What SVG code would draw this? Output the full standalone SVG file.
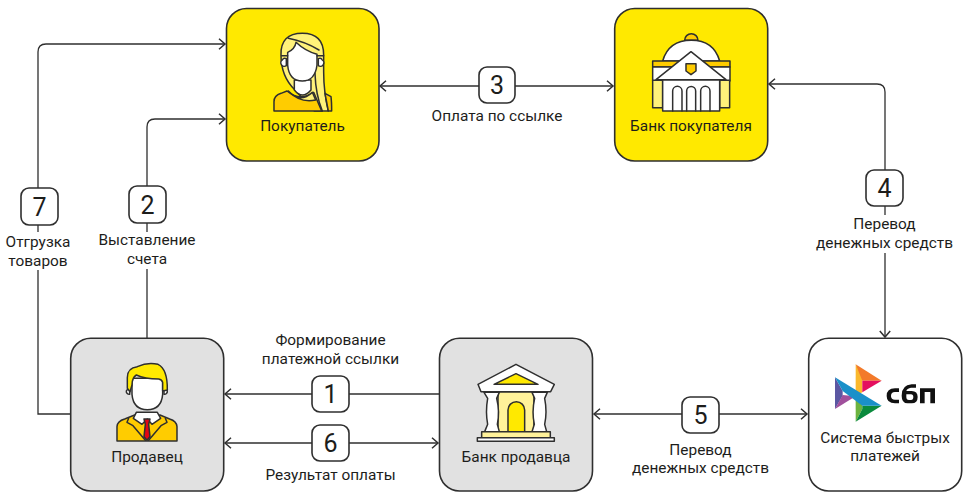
<svg xmlns="http://www.w3.org/2000/svg" width="969" height="500" viewBox="0 0 969 500">
<style>
text{font-family:Roboto,"Liberation Sans",sans-serif;font-size:15.4px;fill:#1d1d1b;text-anchor:middle}
.n{stroke:#2f2f2f;stroke-width:1.6}
.y{fill:#ffe900}.g{fill:#e1e1e1}.w{fill:#fff}
.c{fill:none;stroke:#2f2f2f;stroke-width:1.3}
.b{fill:#fff;stroke:#2f2f2f;stroke-width:1.6}
.num{font-size:25px}
.i{stroke:#2f2f2f;stroke-width:4.5;stroke-linejoin:round;stroke-linecap:round}
</style>
<defs>
<marker id="a" markerWidth="12" markerHeight="14" refX="8.500" refY="6" orient="auto-start-reverse" markerUnits="userSpaceOnUse"><path d="M2.500 .8L8.500 6L2.500 11.200" fill="none" stroke="#2f2f2f" stroke-width="1.5"/></marker>
</defs>
<g id="connectors" class="c">
<path d="M38 193V52Q38 44 46 44H225" marker-end="url(#a)"/>
<path d="M38 270V414H70"/><path d="M38 222V232"/>
<path d="M147 187V127Q147 119 155 119H225" marker-end="url(#a)"/>
<path d="M147 269V338"/><path d="M147 223V232"/>
<path d="M380 86H613" marker-start="url(#a)" marker-end="url(#a)"/>
<path d="M885 170V92Q885 84 877 84H769" marker-end="url(#a)"/>
<path d="M885 253V337" marker-end="url(#a)"/><path d="M885 206V215"/>
<path d="M225 394H439" marker-start="url(#a)"/>
<path d="M225 443H438" marker-start="url(#a)" marker-end="url(#a)"/>
<path d="M594 414H807" marker-start="url(#a)" marker-end="url(#a)"/>
</g>
<g id="node-buyer">
<rect class="n y" x="226.500" y="8.500" width="152.500" height="152.500" rx="20"/>
<g transform="translate(225 5) scale(.3333)" class="i">
<path d="M168 150Q166 85 232 85Q296 85 296 150V200Q296 260 310 318H268L210 255Q168 215 168 150Z" fill="#fff27a"/>
<path d="M147 318V290Q147 272 168 265L186 258Q225 290 266 262L290 318Z" fill="#ffcc00"/>
<path d="M190 258Q225 296 262 262L272 285Q225 295 190 258Z" fill="#fff27a"/>
<path d="M300 265L318 275Q320 290 320 318H310Z" fill="#ffcc00"/>
<path d="M208 225V255Q232 285 258 255V225Z" class="w"/>
<path d="M172 165a9 9 0 0 1 12-4V182a9 9 0 0 1-12-17ZM292 165a9 9 0 0 0-12-4V182a9 9 0 0 0 12-17Z" class="w"/>
<path d="M188 142Q210 132 213 112Q240 138 276 148V180Q270 228 232 228Q192 228 188 180Z" class="w"/>
<path d="M190 100Q240 110 282 135M170 152H188M276 152H296M270 205Q272 270 292 318" fill="none"/>
</g>
<text x="302.500" y="131">Покупатель</text>
</g>
<g id="node-buyer-bank">
<rect class="n y" x="614.700" y="8.500" width="153" height="152.500" rx="20"/>
<g transform="translate(612 5) scale(.3333)" class="i">
<path d="M218 106a20 20 0 0 1 40 0Z" fill="#ffcc00"/>
<path d="M152 168Q170 106 238 106Q305 106 323 168Z" class="w"/>
<rect x="122" y="168" width="232" height="18" fill="#ffcc00"/>
<rect x="122" y="186" width="232" height="42" class="w"/>
<rect x="122" y="226" width="30" height="82" fill="#fff27a"/>
<rect x="323" y="226" width="30" height="82" fill="#fff27a"/>
<rect x="152" y="224" width="171" height="94" class="w"/>
<path d="M132 224L237 140L342 224Z" class="w"/>
<path d="M222 176H252V198L237 209L222 198Z" fill="#ffcc00"/>
<path d="M182 318V258a14 14 0 0 1 28 0V318M224 318V258a13 13 0 0 1 27 0V318M266 318V258a14 14 0 0 1 28 0V318" fill="none"/>
</g>
<text x="691" y="131">Банк покупателя</text>
</g>
<g id="node-seller">
<rect class="n g" x="70.700" y="338.300" width="153" height="152.700" rx="20"/>
<g transform="translate(68 335) scale(.3333)" class="i">
<path d="M147 318V275Q148 258 170 252L200 240L238 262L276 240L305 252Q326 258 327 275V318Z" fill="#ffcc00"/>
<path d="M205 232L196 250L222 268L238 252L252 268L278 250L268 232Z" class="w"/>
<path d="M228 252H246L242 268L246 305L237 316L228 305L232 268Z" fill="#e30613"/>
<path d="M182 250L177 262L195 272L232 316M292 250L297 262L279 272L242 316" fill="none"/>
<path d="M175 168a9 9 0 0 1 10-6V178a9 9 0 0 1-10-10ZM298 168a9 9 0 0 0-10-6V178a9 9 0 0 0 10-10Z" class="w"/>
<path d="M192 130V178Q196 224 238 224Q280 224 284 178V130Z" class="w"/>
<path d="M186 170L178 160V128Q178 98 208 95Q240 80 270 88Q299 102 298 165L284 168V142Q282 134 272 132Q230 132 205 120Q192 128 192 150Z" fill="#ffe900"/>
</g>
<text x="147" y="462">Продавец</text>
</g>
<g id="node-seller-bank">
<rect class="n g" x="439.500" y="338.300" width="153" height="152.700" rx="20"/>
<g transform="translate(436 335) scale(.3333)" class="i">
<rect x="186" y="170" width="108" height="122" fill="#fff29a"/>
<path d="M216 290V225a25 25 0 0 1 50 0V290Z" fill="#ffe900"/>
<path d="M144 172H190L182 190Q192 230 184 268L190 290H146L155 268Q148 230 155 190Z" class="w"/>
<path d="M288 172H334L326 190Q334 230 326 268L332 290H288L295 268Q287 230 296 190Z" class="w"/>
<rect x="137" y="290" width="206" height="18" fill="#fff29a"/>
<rect x="124" y="308" width="231" height="11" class="w"/>
<path d="M126 148L240 88L355 148L344 170H135Z" class="w"/>
<path d="M174 148L240 116L306 148Z" fill="#ffe900"/>
</g>
<text x="516" y="462">Банк продавца</text>
</g>
<g id="node-sbp">
<rect class="n w" x="808.700" y="338.300" width="153" height="152.700" rx="20"/>
<g transform="translate(805 335) scale(.3333)">
<path d="M90 127L113 168V182L90 222Z" fill="#5b57a2"/>
<path d="M90 222L113 180L152 184Z" fill="#a0509c"/>
<path d="M152 88L172 125V172L152 184Z" fill="#fab82c"/>
<path d="M152 88L230 137H172Z" fill="#f37a2a"/>
<path d="M230 137L172 172V137Z" fill="#e4105f"/>
<path d="M152 184L172 196V222L152 260Z" fill="#6cb33f"/>
<path d="M230 212L152 260L172 222V212Z" fill="#0a8a3d"/>
<path d="M90 127L230 212H172L113 168Z" fill="#1a90c9"/>
<path d="M245 183Q245 160 270 160H282V171H270Q258 171 258 183Q258 194 270 194H282V205H270Q245 205 245 183Z" fill="#111"/>
<path d="M290 182Q290 150 320 148H333V158H318Q306 160 304 168H320Q338 168 338 186Q338 205 320 205H308Q290 205 290 182ZM304 186Q304 195 312 195H318Q325 195 325 186Q325 178 318 178H304Z" fill="#111" fill-rule="evenodd"/>
<path d="M345 160H390V205H376V171H359V205H345Z" fill="#111"/>
</g>
<text x="885" y="443">Система быстрых</text>
<text x="885" y="461">платежей</text>
</g>
<g id="label-3"><rect class="b" x="479" y="67" width="36" height="36" rx="8"/><text class="num" x="497" y="94">3</text><text x="497" y="121">Оплата по ссылке</text></g>
<g id="label-4"><rect class="b" x="866" y="170" width="37" height="36" rx="8"/><text class="num" x="884.500" y="197">4</text><text x="884.500" y="229">Перевод</text><text x="884.500" y="248">денежных средств</text></g>
<g id="label-2"><rect class="b" x="129" y="186" width="37" height="37" rx="8"/><text class="num" x="147.500" y="214">2</text><text x="147" y="245">Выставление</text><text x="147" y="264">счета</text></g>
<g id="label-7"><rect class="b" x="21" y="188" width="37" height="37" rx="8"/><text class="num" x="39.500" y="216">7</text><text x="38" y="247">Отгрузка</text><text x="38" y="266">товаров</text></g>
<g id="label-1"><rect class="b" x="312" y="376" width="37" height="36" rx="8"/><text class="num" x="330.500" y="403">1</text><text x="330.500" y="345">Формирование</text><text x="330.500" y="364">платежной ссылки</text></g>
<g id="label-6"><rect class="b" x="312" y="425" width="37" height="36" rx="8"/><text class="num" x="330.500" y="452">6</text><text x="330.500" y="480">Результат оплаты</text></g>
<g id="label-5"><rect class="b" x="682" y="397" width="37" height="36" rx="8"/><text class="num" x="700.500" y="424">5</text><text x="700.500" y="455">Перевод</text><text x="700.500" y="473">денежных средств</text></g>
</svg>
